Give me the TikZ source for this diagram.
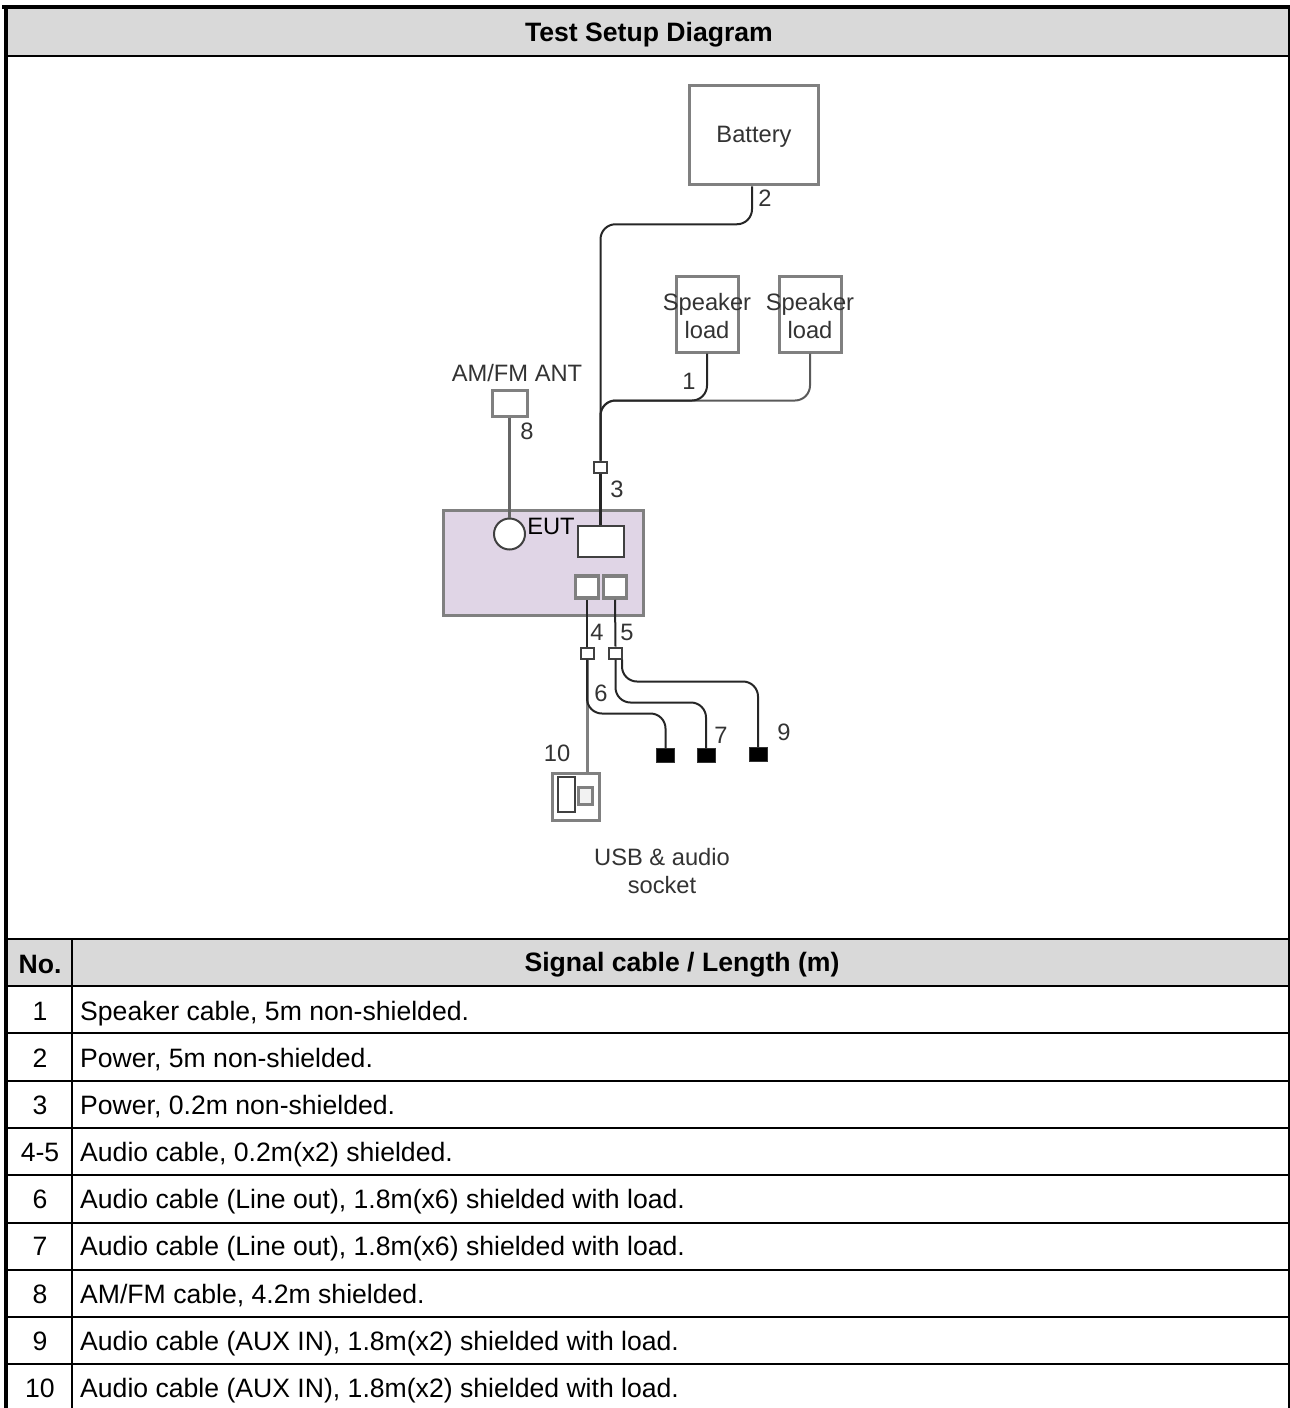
\documentclass[tikz,border=0pt]{standalone}
\usepackage{fontspec}
\setmainfont{Liberation Sans}
\definecolor{hdrgray}{HTML}{D9D9D9}
\definecolor{eutfill}{HTML}{E0D5E6}
\definecolor{boxgray}{HTML}{808080}
\definecolor{labgray}{HTML}{333333}
\tikzset{
    grybox/.style={draw=boxgray,line width=3.5pt,fill=white,inner sep=0pt},
    drkbox/.style={draw=black!75,line width=2pt,fill=white,inner sep=0pt},
    jack/.style={drkbox,minimum width=13,minimum height=11},
    endload/.style={draw=black!80,fill=black,inner sep=0pt,minimum width=18,minimum height=14},
    cable/.style={draw=black!85,line width=2pt,rounded corners=15},
    lab/.style={inner sep=0pt,text=labgray,font=\fontsize{23.7}{28}\selectfont,align=center},
    cell/.style={inner sep=0pt,text=black,font=\fontsize{26.6}{32}\selectfont},
    hdr/.style={cell,font=\fontsize{26.6}{32}\selectfont\bfseries}
}
\begin{document}
\begin{tikzpicture}[x=1pt,y=-1pt]
    \useasboundingbox (0,0) rectangle (1290,1408);

    % header bands
    \fill[hdrgray] (8,9) rectangle (1289,55);
    \fill[hdrgray] (8,940) rectangle (1289,986);
    \draw[line width=4pt] (2,7) -- (1290,7);
    \draw[line width=4pt] (6,5) -- (6,1408);
    \draw[line width=1.5pt] (1289.2,5) -- (1289.2,1408);
    \draw[line width=2pt] (8,56) -- (1289,56);
    \draw[line width=2pt] (8,939) -- (1289,939);
    \draw[line width=1.5pt] (72,939) -- (72,1408);
    \foreach \y in {986,1033,1081,1128,1175,1223,1270,1317,1364}
    {
        \draw[line width=2pt] (8,\y) -- (1289,\y);
    }

    \node[hdr] (title) at (649,34.5) {Test Setup Diagram};
    \node[hdr] (nohdr) at (40,964) {No.};
    \node[hdr] (sighdr) at (682,965) {Signal cable / Length (m)};

    \foreach \y/\n/\t in {1020/1/{Speaker cable, 5m non-shielded.},
        1067/2/{Power, 5m non-shielded.},
        1114/3/{Power, 0.2m non-shielded.},
        1161/4-5/{Audio cable, 0.2m(x2) shielded.},
        1208/6/{Audio cable (Line out), 1.8m(x6) shielded with load.},
        1255/7/{Audio cable (Line out), 1.8m(x6) shielded with load.},
        1303/8/{AM/FM cable, 4.2m shielded.},
        1350/9/{Audio cable (AUX IN), 1.8m(x2) shielded with load.},
        1397/10/{Audio cable (AUX IN), 1.8m(x2) shielded with load.}}
    {
        \node[cell,anchor=base] (no\n) at (40,\y) {\n};
        \node[cell,anchor=base west] (sig\n) at (80,\y) {\t};
    }

    % boxes
    \node[grybox,minimum width=129,minimum height=99] (battery) at (754,135) {};
    \node[grybox,line width=3pt,minimum width=62,minimum height=76] (spk1) at (707,314) {};
    \node[grybox,line width=3pt,minimum width=62,minimum height=76] (spk2) at (810,314) {};
    \node[grybox,line width=3pt,minimum width=35,minimum height=26] (ant) at (509.5,403) {};
    \node[grybox,fill=eutfill,minimum width=200,minimum height=105] (eut) at (543.5,563) {};
    \node[drkbox,circle,minimum size=31] (circ) at (509.5,534) {};
    \node[drkbox,minimum width=46,minimum height=31] (pwrbox) at (600.5,541) {};
    \node[grybox,minimum width=23,minimum height=22] (port4) at (587,587) {};
    \node[grybox,minimum width=23,minimum height=22] (port5) at (615,587) {};
    \node[jack] (jack3) at (600.5,467) {};
    \node[jack] (jack6) at (587,653) {};
    \node[jack] (jack7) at (615.5,653) {};
    \node[endload] (load6) at (665.5,755.5) {};
    \node[endload] (load7) at (706,755.5) {};
    \node[endload] (load9) at (758,754) {};
    \node[grybox,minimum width=47,minimum height=47] (socket) at (576,797) {};
    \node[drkbox,minimum width=17,minimum height=35] (sock1) at (566,794.5) {};
    \node[grybox,line width=2.5pt,fill=black!5,minimum width=14,minimum height=17] (sock2) at (585.5,796) {};

    % cables
    \draw[cable,boxgray!70!black] (spk2.south) -- ++(0,47) -| (jack3.north);
    \draw[cable] ([xshift=-2]battery.south) -- ++(0,38) -| (jack3.north);
    \draw[cable] (spk1.south) -- ++(0,47) -| (jack3.north);
    \draw[cable,line width=2.5pt] (jack3.south) -- (pwrbox.north);
    \draw[cable,black!60,line width=2.5pt] (ant.south) -- (circ.north);
    \draw[cable] (port4.south) -- (jack6.north);
    \draw[cable] (port5.south) -- (jack7.north);
    \draw[cable,boxgray,line width=3pt] (jack6.south) -- (jack6.south |- socket.north);
    \draw[cable] (jack6.south) -- ++(0,54) -| (load6.north);
    \draw[cable] (jack7.south) -- ++(0,43) -| (load7.north);
    \draw[cable] ([xshift=6.5]jack7.south) -- ++(0,22) -| (load9.north);

    % labels
    \node[lab] (batlab) at (754,137) {Battery};
    \node[lab] (spk1lab) at (707,316) {Speaker\\load};
    \node[lab] (spk2lab) at (810,316) {Speaker\\load};
    \node[lab] (antlab) at (517,373) {AM/FM ANT};
    \node[lab,text=black] (eutlab) at (551,526) {EUT};
    \node[lab] (usblab) at (662,871) {USB \& audio\\socket};
    \node[lab] (lab1) at (689,381) {1};
    \node[lab] (lab2) at (765,198) {2};
    \node[lab] (lab3) at (617,489) {3};
    \node[lab] (lab4) at (597,632) {4};
    \node[lab] (lab5) at (627,632) {5};
    \node[lab] (lab6) at (601,693) {6};
    \node[lab] (lab7) at (721,735) {7};
    \node[lab] (lab8) at (527,431) {8};
    \node[lab] (lab9) at (784,732) {9};
    \node[lab] (lab10) at (557,753) {10};
\end{tikzpicture}
\end{document}
